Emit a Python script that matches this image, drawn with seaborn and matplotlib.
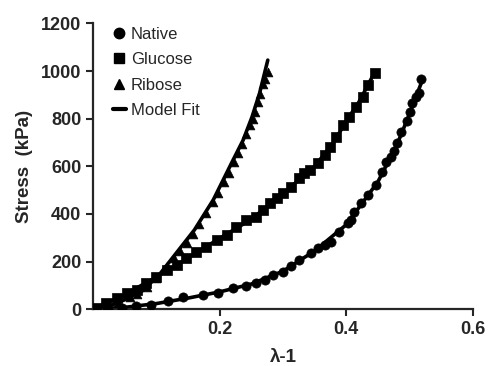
import numpy as np
import pandas as pd
import matplotlib
matplotlib.use("Agg")
import matplotlib.pyplot as plt
import seaborn as sns
from matplotlib.lines import Line2D

# data (x = lambda-1, y = stress in kPa)
native_x = [0.000, 0.024, 0.045, 0.068, 0.092, 0.118, 0.142, 0.174, 0.197, 0.221,
            0.242, 0.258, 0.271, 0.284, 0.300, 0.313, 0.326, 0.345, 0.355, 0.366,
            0.376, 0.389, 0.402, 0.407, 0.413, 0.423, 0.434, 0.447, 0.457, 0.463,
            0.470, 0.476, 0.480, 0.487, 0.496, 0.500, 0.504, 0.510, 0.515, 0.518]
native_y = [0, 2, 6, 12, 18, 36, 50, 60, 70, 88,
            98, 110, 123, 144, 158, 180, 207, 238, 256, 268,
            284, 326, 361, 375, 410, 445, 480, 522, 575, 617,
            640, 665, 700, 745, 790, 830, 868, 890, 910, 965]

glucose_x = [0.005, 0.021, 0.037, 0.053, 0.069, 0.084, 0.100, 0.116, 0.132, 0.147,
             0.163, 0.179, 0.195, 0.211, 0.226, 0.242, 0.258, 0.268, 0.279, 0.290,
             0.300, 0.313, 0.326, 0.334, 0.342, 0.355, 0.366, 0.374, 0.384, 0.395,
             0.405, 0.416, 0.426, 0.434, 0.445]
glucose_y = [4, 25, 46, 67, 81, 109, 137, 165, 186, 214,
             242, 263, 291, 312, 347, 375, 389, 418, 445, 468,
             487, 515, 550, 570, 584, 613, 647, 682, 724, 773,
             808, 850, 892, 941, 993]

ribose_x = [0.020, 0.040, 0.058, 0.070, 0.085, 0.100, 0.116, 0.128, 0.137, 0.148,
            0.158, 0.168, 0.179, 0.189, 0.198, 0.207, 0.214, 0.222, 0.229, 0.236,
            0.242, 0.248, 0.252, 0.256, 0.260, 0.264, 0.268, 0.271, 0.277]
ribose_y = [10, 28, 50, 65, 95, 130, 180, 215, 245, 280,
            318, 360, 405, 450, 490, 535, 570, 620, 655, 695,
            735, 775, 800, 830, 870, 905, 945, 965, 995]

# model fit curves
fit_native_x = [0.0, 0.05, 0.10, 0.15, 0.20, 0.25, 0.30, 0.35, 0.40, 0.45, 0.48, 0.50, 0.52]
fit_native_y = [0, 8, 24, 47, 73, 106, 160, 245, 355, 535, 690, 820, 960]
fit_glucose_x = [0.0, 0.05, 0.10, 0.15, 0.20, 0.25, 0.30, 0.35, 0.38, 0.40, 0.42, 0.445]
fit_glucose_y = [0, 62, 135, 215, 298, 378, 485, 600, 700, 790, 870, 995]
fit_ribose_x = [0.0, 0.03, 0.05, 0.078, 0.106, 0.134, 0.16, 0.19, 0.221, 0.237, 0.251, 0.263, 0.276]
fit_ribose_y = [0, 18, 40, 78, 150, 245, 333, 460, 626, 710, 807, 907, 1046]

sns.set_style("ticks")
plt.rcParams["font.family"] = ["Liberation Sans", "DejaVu Sans"]

fig = plt.figure(figsize=(4.93, 3.66), dpi=100)
ax = fig.add_axes([0.189, 0.155, 0.770, 0.781])

for fx, fy in [(fit_native_x, fit_native_y), (fit_glucose_x, fit_glucose_y),
               (fit_ribose_x, fit_ribose_y)]:
    sns.lineplot(x=fx, y=fy, ax=ax, color="black", linewidth=2.6,
                 estimator=None, sort=False)

sns.scatterplot(x=native_x, y=native_y, ax=ax, marker="o", s=44,
                color="black", edgecolor="black", linewidth=0.5, zorder=3)
sns.scatterplot(x=glucose_x, y=glucose_y, ax=ax, marker="s", s=55,
                color="black", edgecolor="black", linewidth=0.5, zorder=3)
sns.scatterplot(x=ribose_x, y=ribose_y, ax=ax, marker="^", s=40,
                color="black", edgecolor="black", linewidth=0.5, zorder=3)

ax.set_xlim(0, 0.6)
ax.set_ylim(0, 1200)
ax.set_xticks([0.2, 0.4, 0.6])
ax.set_xticklabels(["0.2", "0.4", "0.6"])
ax.set_yticks([0, 200, 400, 600, 800, 1000, 1200])
ax.tick_params(axis="both", labelsize=13, width=1.5, length=5, direction="out")
for lab in ax.get_xticklabels() + ax.get_yticklabels():
    lab.set_fontweight("bold")
for side in ["left", "bottom"]:
    ax.spines[side].set_linewidth(1.6)
sns.despine(ax=ax)

ax.set_xlabel("λ-1", fontsize=13.5, fontweight="bold", labelpad=8)
ax.set_ylabel("Stress  (kPa)", fontsize=13.5, fontweight="bold", labelpad=6)

handles = [
    Line2D([], [], marker="o", color="black", linestyle="none", markersize=7.5),
    Line2D([], [], marker="s", color="black", linestyle="none", markersize=7.5),
    Line2D([], [], marker="^", color="black", linestyle="none", markersize=7.5),
    Line2D([], [], color="black", linewidth=3),
]
ax.legend(handles, ["Native", "Glucose", "Ribose", "Model Fit"],
          loc="upper left", bbox_to_anchor=(0.012, 1.04), frameon=False,
          fontsize=12, handlelength=0.8, handletextpad=0.3, labelspacing=0.62)

fig.savefig("out.png", dpi=100)
